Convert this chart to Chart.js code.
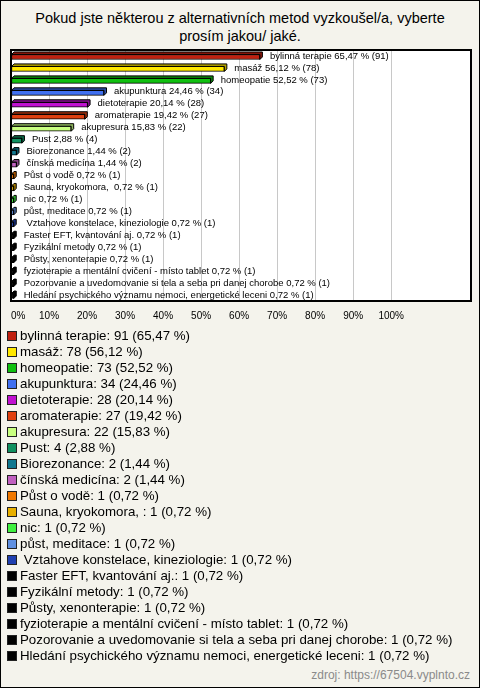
<!DOCTYPE html>
<html>
<head>
<meta charset="utf-8">
<script src="https://cdn.jsdelivr.net/npm/chart.js@4/dist/chart.umd.min.js"></script>
<style>
  html, body { margin: 0; padding: 0; }
  body { width: 480px; height: 688px; background: #f4f3ec; position: relative; overflow: hidden; font-family: "Liberation Sans", Arial, sans-serif; }
  #frame { position: absolute; left: 0; top: 0; width: 480px; height: 688px; box-sizing: border-box; border: 1px solid #000; pointer-events: none; }
  #title { position: absolute; left: 0; top: 9px; width: 480px; text-align: center; font-size: 14.5px; line-height: 18px; color: #000; }
  #chart { position: absolute; left: 0; top: 0; }
  #legend { position: absolute; left: 7px; top: 328px; font-size: 13.3px; color: #000; }
  .row { height: 16px; line-height: 16px; white-space: pre; display: flex; align-items: center; }
  .box { width: 8px; height: 8px; border: 1px solid #222; margin-right: 3px; flex: none; }
  #source { position: absolute; right: 10px; top: 668px; font-size: 12px; color: #8a8a8a; }
</style>
</head>
<body>
<div id="title">Pokud jste některou z alternativních metod vyzkoušel/a, vyberte<br>prosím jakou/ jaké.</div>
<canvas id="chart" width="480" height="330"></canvas>
<div id="legend"></div>
<div id="source">zdroj: https://67504.vyplnto.cz</div>
<div id="frame"></div>
<script>
const categories = [
  "bylinná terapie",
  "masáž",
  "homeopatie",
  "akupunktura",
  "dietoterapie",
  "aromaterapie",
  "akupresura",
  "Pust",
  "Biorezonance",
  "čínská medicína",
  "Půst o vodě",
  "Sauna, kryokomora, ",
  "nic",
  "půst, meditace",
  " Vztahove konstelace, kineziologie",
  "Faster EFT, kvantování aj.",
  "Fyzikální metody",
  "Půsty, xenonterapie",
  "fyzioterapie a mentální cvičení - místo tablet",
  "Pozorovanie a uvedomovanie si tela a seba pri danej chorobe",
  "Hledání psychického významu nemoci, energetické leceni"
];
const counts = [91, 78, 73, 34, 28, 27, 22, 4, 2, 2, 1, 1, 1, 1, 1, 1, 1, 1, 1, 1, 1];
const percents = [65.47, 56.12, 52.52, 24.46, 20.14, 19.42, 15.83, 2.88, 1.44, 1.44, 0.72, 0.72, 0.72, 0.72, 0.72, 0.72, 0.72, 0.72, 0.72, 0.72, 0.72];
const colors = [
  "#c0200f", "#ffe800", "#10c010", "#4070f0", "#c010d0", "#e04010", "#c8ff80",
  "#109060", "#107890", "#c060c0", "#f07800", "#e8b000", "#40f040", "#6090e0",
  "#2040b0", "#000000", "#000000", "#000000", "#000000", "#000000", "#000000"
];
const tickValues = [0, 10, 20, 30, 40, 50, 60, 70, 80, 90, 100];
const axisMax = 121;

function fmt(v) { return v.toFixed(2).replace('.', ','); }
function shade(hex, f) {
  const n = parseInt(hex.slice(1), 16);
  const r = Math.round(((n >> 16) & 255) * f), g = Math.round(((n >> 8) & 255) * f), b = Math.round((n & 255) * f);
  return `rgb(${r},${g},${b})`;
}

// legend (HTML, built from arrays)
const legendEl = document.getElementById('legend');
categories.forEach((c, i) => {
  const row = document.createElement('div');
  row.className = 'row';
  const box = document.createElement('span');
  box.className = 'box';
  box.style.background = colors[i];
  const t = document.createElement('span');
  t.textContent = `${c}: ${counts[i]} (${fmt(percents[i])} %)`;
  row.appendChild(box); row.appendChild(t);
  legendEl.appendChild(row);
});

const bar3d = {
  id: 'bar3d',
  beforeDraw(chart) {
    const { ctx, chartArea: a } = chart;
    ctx.save();
    ctx.fillStyle = '#ffffff';
    ctx.fillRect(a.left, a.top, a.right - a.left, a.bottom - a.top);
    ctx.restore();
  },
  beforeDatasetsDraw(chart) {
    chart.ctx.save();
    chart.ctx.translate(0, 1);
  },
  afterDatasetsDraw(chart) {
    const ctx = chart.ctx;
    const meta = chart.getDatasetMeta(0);
    const d = 2.5;
    meta.data.forEach((bar, i) => {
      const p = bar.getProps(['x', 'y', 'base', 'height'], true);
      const top = p.y - p.height / 2, bottom = p.y + p.height / 2;
      ctx.fillStyle = shade(colors[i], 0.7);
      ctx.strokeStyle = '#000';
      ctx.lineWidth = 1;
      ctx.beginPath();
      ctx.moveTo(p.base, top);
      ctx.lineTo(p.base + d, top - d);
      ctx.lineTo(p.x + d, top - d);
      ctx.lineTo(p.x + d, bottom - d);
      ctx.lineTo(p.x, bottom);
      ctx.lineTo(p.x, top);
      ctx.closePath();
      ctx.fill();
      ctx.stroke();
    });
    ctx.restore();
    ctx.save();
    ctx.fillStyle = '#000';
    ctx.font = '9.5px "Liberation Sans", Arial, sans-serif';
    ctx.textBaseline = 'middle';
    ctx.textAlign = 'left';
    meta.data.forEach((bar, i) => {
      const p = bar.getProps(['x', 'y'], true);
      ctx.fillText(`${categories[i]} ${fmt(percents[i])} % (${counts[i]})`, p.x + 10, p.y);
    });
    ctx.restore();
  },
  afterDraw(chart) {
    const { ctx, chartArea: a } = chart;
    ctx.save();
    ctx.strokeStyle = '#000';
    ctx.lineWidth = 2;
    ctx.strokeRect(a.left, a.top, a.right - a.left, a.bottom - a.top);
    ctx.restore();
  }
};

new Chart(document.getElementById('chart'), {
  type: 'bar',
  data: {
    labels: categories,
    datasets: [{
      data: percents,
      backgroundColor: colors,
      borderColor: '#000',
      borderWidth: 1,
      borderSkipped: false,
      barThickness: 5
    }]
  },
  options: {
    indexAxis: 'y',
    responsive: false,
    animation: false,
    events: [],
    layout: { padding: { top: 50, left: 11, right: 9, bottom: 4 } },
    plugins: { legend: { display: false }, tooltip: { enabled: false }, title: { display: false } },
    scales: {
      y: { display: false },
      x: {
        min: 0,
        max: axisMax,
        afterBuildTicks: (s) => { s.ticks = tickValues.concat([axisMax]).map(v => ({ value: v })); },
        afterFit: (s) => { s.height = 25; },
        grid: { color: '#c8c8c8', lineWidth: 1, drawTicks: false },
        border: { display: false },
        ticks: {
          align: 'inner',
          padding: 9,
          color: '#000',
          font: { size: 10, family: '"Liberation Sans", Arial, sans-serif' },
          callback: (v) => (tickValues.includes(v) ? v + '%' : '')
        }
      }
    }
  },
  plugins: [bar3d]
});
</script>
</body>
</html>
